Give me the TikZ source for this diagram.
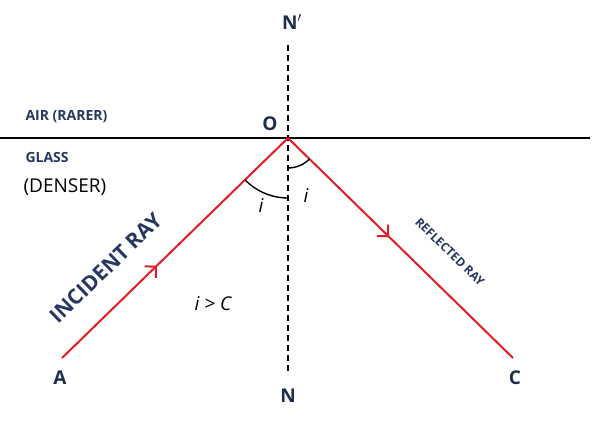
\documentclass[tikz,border=0pt]{standalone}
\usepackage{fontspec}
\setmainfont{Open Sans}
\usetikzlibrary{arrows.meta,decorations.markings}
\definecolor{navy}{RGB}{40,55,95}
\definecolor{rayred}{RGB}{225,30,35}

\begin{document}
\begin{tikzpicture}[x=1pt,y=-1pt,
  ray/.style={rayred, line width=2pt},
  midarrow/.style={postaction={decorate}, decoration={markings,
    mark=at position #1 with {\arrow[line width=2pt]{Straight Barb[length=8pt,width=16pt]}}}},
  lbl/.style={navy, font=\bfseries\fontsize{14}{16}\selectfont},
  pt/.style={font=\bfseries\fontsize{19}{22}\selectfont, text=navy!80!black},
  angl/.style={font=\itshape\fontsize{19}{22}\selectfont}
]
\useasboundingbox (0,0) rectangle (600,422);

\coordinate (O) at (288,138);
\coordinate (A) at (62,358);
\coordinate (C) at (513,358);
\coordinate (Ntop) at (288,45);
\coordinate (Nbot) at (288,375);

% surface and normal
\draw[line width=1.4pt] (0,138) -- (590,138);
\draw[dashed, line width=1.4pt, dash pattern=on 6pt off 4pt] (Ntop) -- (Nbot);

% rays
\draw[ray, midarrow=0.42] (A) -- (O);
\draw[ray, midarrow=0.45] (O) -- (C);

% angles
\draw[line width=1.4pt] (O) ++(135.8:60) arc[start angle=135.8, end angle=90, radius=60];
\draw[line width=1.4pt] (O) ++(90:30) arc[start angle=90, end angle=44.3, radius=30];

% labels
\node[pt] (o) at (270,124) {O};
\node[pt] (nprime) at (292,22) {N$'$};
\node[pt] (n) at (288,396) {N};
\node[pt] (a) at (60,378) {A};
\node[pt] (c) at (515,378) {C};
\node[lbl, anchor=west] (air) at (22,117) {AIR (RARER)};
\node[lbl, anchor=west] (glass) at (22,158) {GLASS};
\node[font=\fontsize{19}{22}\selectfont, anchor=west] (denser) at (20,187) {(DENSER)};
\node[navy, font=\bfseries\fontsize{21}{24}\selectfont, rotate=44.2] (incident) at (106,268) {INCIDENT RAY};
\node[navy, font=\bfseries\fontsize{12}{14}\selectfont, rotate=-44.3] (reflected) at (450,252) {REFLECTED RAY};
\node[angl] (cond) at (213,304) {i > C};
\node[angl] (i1) at (261,206) {i};
\node[angl] (i2) at (306,196) {i};
\end{tikzpicture}
\end{document}
